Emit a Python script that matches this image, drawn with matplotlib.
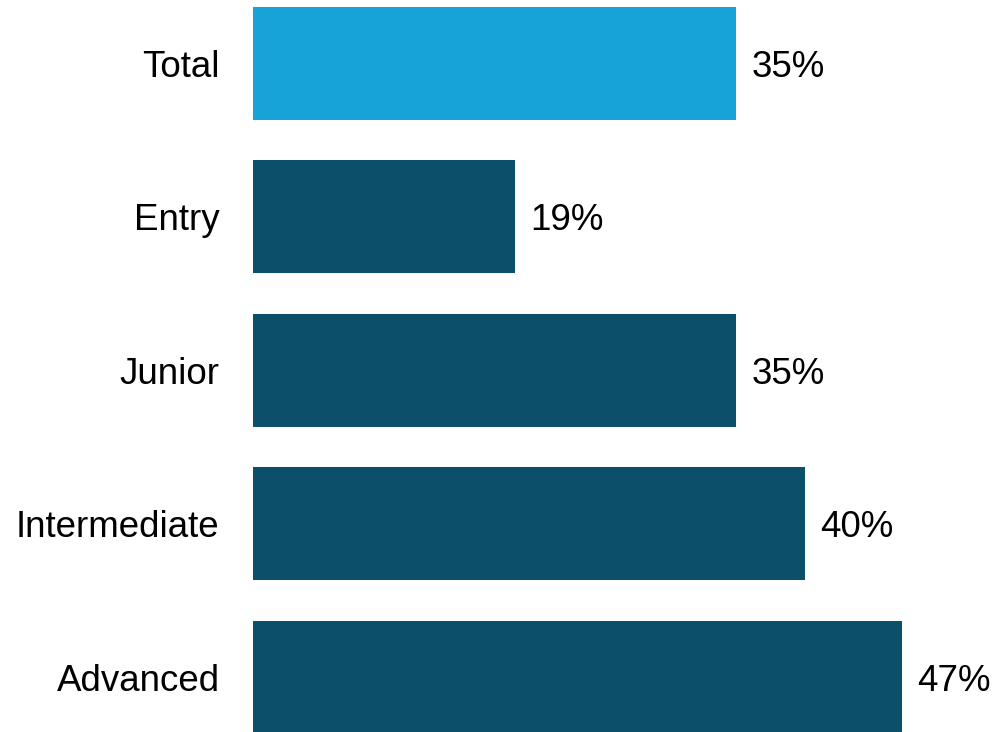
import matplotlib.pyplot as plt

plt.rcParams['font.family'] = ['Liberation Sans', 'DejaVu Sans']

categories = ["Total", "Entry", "Junior", "Intermediate", "Advanced"]
values = [35, 19, 35, 40, 47]
colors = ["#17A2D8", "#0B4F6A", "#0B4F6A", "#0B4F6A", "#0B4F6A"]

fig = plt.figure(figsize=(9.97, 7.32), dpi=100)
ax = fig.add_axes([0.2538, 0, 0.7462, 1])

pos = list(range(len(categories)))
ax.barh(pos, values, height=0.737, color=colors)

for p, v in zip(pos, values):
    ax.annotate(f"{v}%", (v, p), xytext=(11, 0), textcoords="offset points",
                va="center_baseline", ha="left", fontsize=26.5, color="#000000")

ax.set_xlim(0, 53.9)
ax.set_ylim(4.358, -0.414)
ax.set_yticks(pos)
ax.set_yticklabels(categories, fontsize=26.5, va="center_baseline")
ax.tick_params(axis="y", length=0, pad=24)
ax.set_xticks([])
for s in ax.spines.values():
    s.set_visible(False)

fig.savefig("out.png", dpi=100)
